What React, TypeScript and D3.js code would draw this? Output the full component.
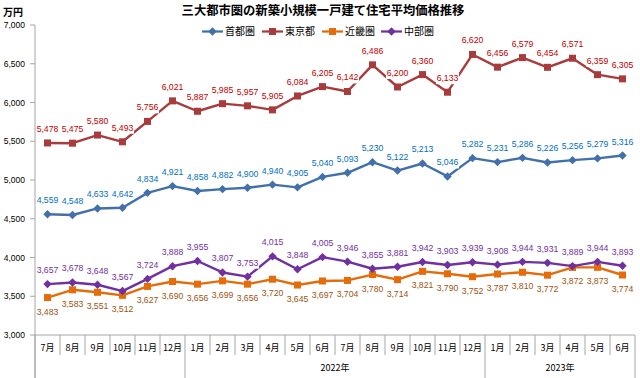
import React from "react";
import * as d3 from "d3";

const months = ["7月","8月","9月","10月","11月","12月","1月","2月","3月","4月","5月","6月","7月","8月","9月","10月","11月","12月","1月","2月","3月","4月","5月","6月"];
const yearGroups = [
  { label: "", start: 0, end: 6 },
  { label: "2022年", start: 6, end: 18 },
  { label: "2023年", start: 18, end: 24 },
];
const shuto = [4559,4548,4633,4642,4834,4921,4858,4882,4900,4940,4905,5040,5093,5230,5122,5213,5046,5282,5231,5286,5226,5256,5279,5316];
const tokyo = [5478,5475,5580,5493,5756,6021,5887,5985,5957,5905,6084,6205,6142,6486,6200,6360,6133,6620,6456,6579,6454,6571,6359,6305];
const kinki = [3483,3583,3551,3512,3627,3690,3656,3699,3656,3720,3645,3697,3704,3780,3714,3821,3790,3752,3787,3810,3772,3872,3873,3774];
const chubu = [3657,3678,3648,3567,3724,3888,3955,3807,3753,4015,3848,4005,3946,3855,3881,3942,3903,3939,3908,3944,3931,3889,3944,3893];
const yTicks = [3000,3500,4000,4500,5000,5500,6000,6500,7000];

const series = [
  { name: "首都圏", values: shuto, color: "#4170AA", label: "#0070C0", marker: "diamond", below: false },
  { name: "東京都", values: tokyo, color: "#A83B3B", label: "#C00000", marker: "square", below: false },
  { name: "近畿圏", values: kinki, color: "#E46C0A", label: "#9C5410", marker: "square", below: true },
  { name: "中部圏", values: chubu, color: "#7030A0", label: "#7030A0", marker: "diamond", below: false },
];

const W = 640, H = 378;
const left = 35, right = 635, top = 25, bottom = 335;
const font = "'Liberation Sans', Arial, sans-serif";
const cjk = "'Noto Sans CJK JP', sans-serif";

function Marker({ type, x, y, color }: { type: string; x: number; y: number; color: string }) {
  if (type === "square") {
    return <rect x={x - 3.5} y={y - 3.5} width={7} height={7} fill={color} />;
  }
  const s = 4.2;
  return <path d={`M${x},${y - s}L${x + s},${y}L${x},${y + s}L${x - s},${y}Z`} fill={color} />;
}

export default function App() {
  const x = d3.scaleBand<number>().domain(d3.range(months.length)).range([left, right]).padding(0);
  const y = d3.scaleLinear().domain([3000, 7000]).range([bottom, top]);
  const cx = (i: number) => (x(i) as number) + x.bandwidth() / 2;
  const line = d3.line<number>().x((_, i) => cx(i)).y((v) => y(v));
  const fmt = d3.format(",");
  const axisColor = "#A6A6A6";

  return (
    <svg width={W} height={H} style={{ position: "absolute", left: 0, top: 0, background: "#fff" }}>
      <text x={323} y={14.5} textAnchor="middle" fontFamily={cjk} fontWeight="bold" fontSize={12.3} fill="#000">三大都市圏の新築小規模一戸建て住宅平均価格推移</text>
      <text x={3} y={16} fontFamily={cjk} fontWeight="bold" fontSize={10} fill="#000">万円</text>

      {/* legend */}
      {series.map((s, k) => {
        const lx = [202, 262, 322, 381][k];
        return (
          <g key={s.name}>
            <line x1={lx} x2={lx + 21} y1={31.5} y2={31.5} stroke={s.color} strokeWidth={2.25} />
            <Marker type={s.marker} x={lx + 10.5} y={31.5} color={s.color} />
            <text x={lx + 23} y={35} fontFamily={cjk} fontSize={10} fill="#000">{s.name}</text>
          </g>
        );
      })}

      {/* y axis */}
      <line x1={left} x2={left} y1={top} y2={H} stroke={axisColor} strokeWidth={1} />
      {yTicks.map((t) => (
        <g key={t}>
          <line x1={left - 5} x2={left} y1={y(t)} y2={y(t)} stroke={axisColor} />
          <text x={left - 10} y={y(t) + 3} textAnchor="end" fontFamily={font} fontSize={8.5} fill="#000">{fmt(t)}</text>
        </g>
      ))}

      {/* x axis */}
      <line x1={left} x2={right} y1={bottom} y2={bottom} stroke={axisColor} />
      {d3.range(months.length + 1).map((i) => {
        const xx = i < months.length ? (x(i) as number) : right;
        const isYear = yearGroups.some((g) => g.start === i || g.end === i);
        return <line key={i} x1={xx} x2={xx} y1={bottom} y2={isYear ? H : 355} stroke={axisColor} />;
      })}
      {months.map((m, i) => (
        <text key={i} x={cx(i)} y={351} textAnchor="middle" fontFamily={cjk} fontSize={9} fill="#000">{m}</text>
      ))}
      {yearGroups.map((g) => (
        <text key={g.label + g.start} x={((x(g.start) as number) + ((g.end < months.length ? x(g.end) : right) as number)) / 2} y={371} textAnchor="middle" fontFamily={cjk} fontSize={9} fill="#000">{g.label}</text>
      ))}

      {/* series */}
      {series.map((s) => (
        <g key={s.name}>
          <path d={line(s.values) || ""} fill="none" stroke={s.color} strokeWidth={2.4} strokeLinejoin="round" />
          {s.values.map((v, i) => (
            <Marker key={i} type={s.marker} x={cx(i)} y={y(v)} color={s.color} />
          ))}
        </g>
      ))}

      {/* data labels */}
      {series.map((s) => (
        <g key={s.name + "l"}>
          {s.values.map((v, i) => {
            const ly = y(v) + (s.below ? 14 : -14);
            return (
              <g key={i}>
                <rect x={cx(i) - 11.5} y={ly - 6} width={23} height={12} fill="#fff" />
                <text x={cx(i)} y={ly + 3} textAnchor="middle" fontFamily={font} fontSize={8.7} fill={s.label}>{fmt(v)}</text>
              </g>
            );
          })}
        </g>
      ))}
    </svg>
  );
}
